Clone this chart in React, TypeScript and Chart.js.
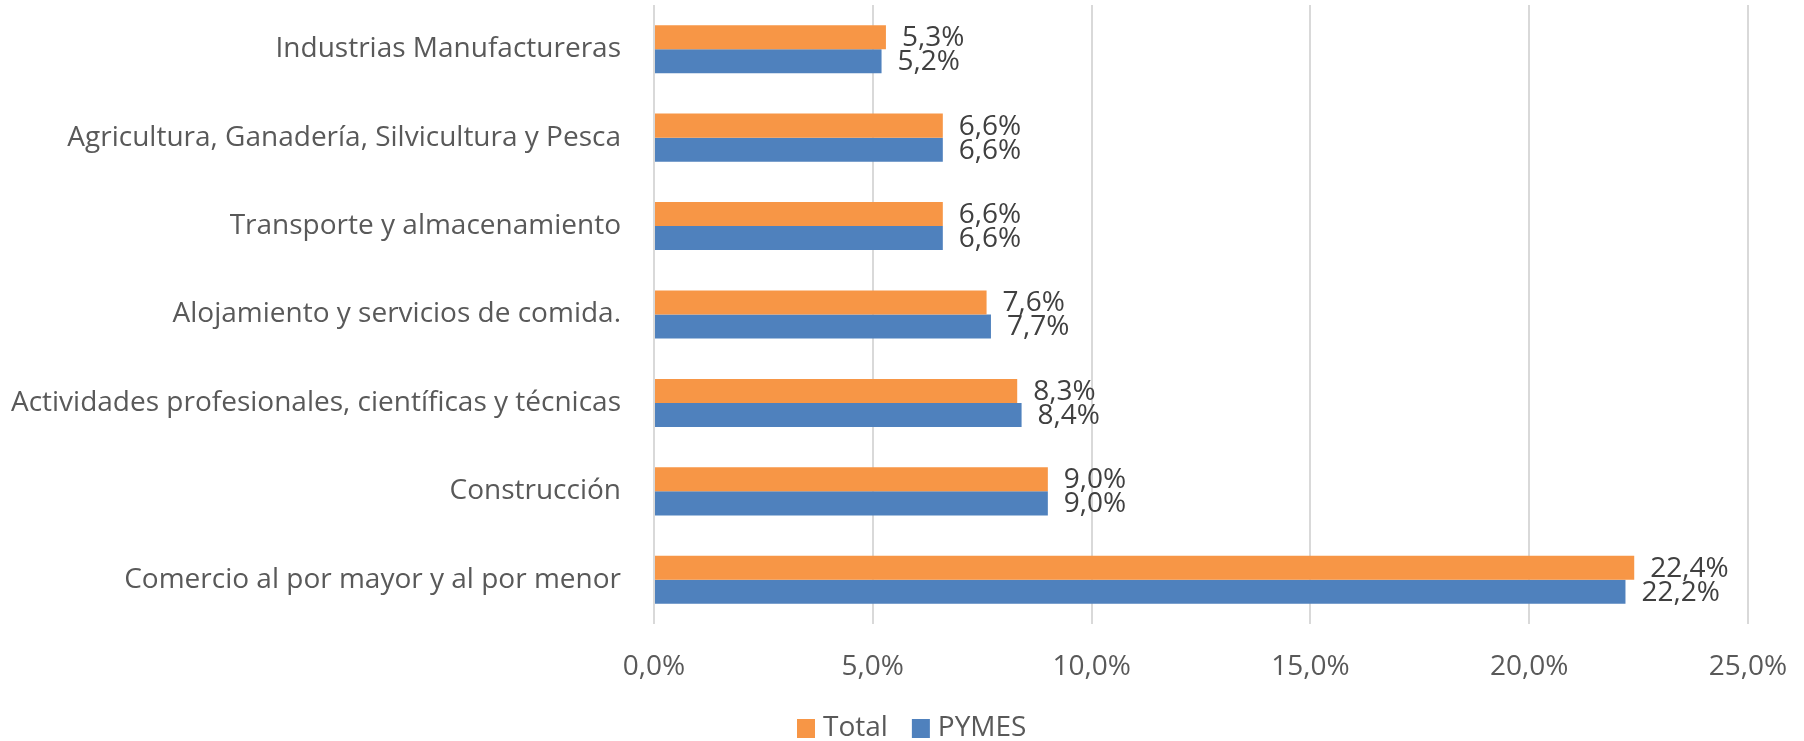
import React, { useEffect, useRef } from "react";
import { Chart, registerables } from "chart.js";

Chart.register(...registerables);

const categories = [
  "Industrias Manufactureras",
  "Agricultura, Ganadería, Silvicultura y Pesca",
  "Transporte y almacenamiento",
  "Alojamiento y servicios de comida.",
  "Actividades profesionales, científicas y técnicas",
  "Construcción",
  "Comercio al por mayor y al por menor",
];
const totalValues = [5.3, 6.6, 6.6, 7.6, 8.3, 9.0, 22.4];
const pymesValues = [5.2, 6.6, 6.6, 7.7, 8.4, 9.0, 22.2];
const seriesNames = ["Total", "PYMES"];
const seriesColors = ["#F79646", "#4F81BD"];
const xTicks = [0, 5, 10, 15, 20, 25];

const fmt = (v: number) => v.toFixed(1).replace(".", ",") + "%";

const FONT = "'Open Sans', sans-serif";
const FS = 28;

const dataLabelPlugin = {
  id: "barValueLabels",
  afterDatasetsDraw(chart: any) {
    const ctx = chart.ctx;
    ctx.save();
    ctx.font = `${FS}px ${FONT}`;
    ctx.fillStyle = "#404040";
    ctx.textAlign = "left";
    ctx.textBaseline = "middle";
    chart.data.datasets.forEach((ds: any, di: number) => {
      const meta = chart.getDatasetMeta(di);
      meta.data.forEach((el: any, i: number) => {
        ctx.fillText(fmt(ds.data[i]), el.x + 16, el.y + 1);
      });
    });
    ctx.restore();
  },
};

const legendPlugin = {
  id: "customLegend",
  afterDraw(chart: any) {
    const ctx = chart.ctx;
    ctx.save();
    ctx.font = `${FS}px ${FONT}`;
    ctx.textAlign = "left";
    ctx.textBaseline = "middle";
    const cy = 728;
    const box = 18;
    let x = 797;
    chart.data.datasets.forEach((ds: any) => {
      ctx.fillStyle = ds.backgroundColor;
      ctx.fillRect(x, cy - box / 2, box, box + 1);
      x += box + 8;
      ctx.fillStyle = "#595959";
      ctx.fillText(ds.label, x, cy);
      x += ctx.measureText(ds.label).width + 24;
    });
    ctx.restore();
  },
};

export default function App() {
  const ref = useRef<HTMLCanvasElement>(null);
  useEffect(() => {
    if (!ref.current) return;
    Chart.defaults.font.family = FONT;
    const chart = new Chart(ref.current, {
      type: "bar",
      data: {
        labels: categories,
        datasets: seriesNames.map((name, k) => ({
          label: name,
          data: k === 0 ? totalValues : pymesValues,
          backgroundColor: seriesColors[k],
          categoryPercentage: 0.544,
          barPercentage: 1,
        })),
      },
      options: {
        indexAxis: "y",
        responsive: false,
        animation: false,
        devicePixelRatio: 1,
        layout: { padding: { top: 5, right: 56, left: 0, bottom: 0 } },
        plugins: {
          tooltip: { enabled: false },
          legend: { display: false },
        },
        scales: {
          x: {
            min: 0,
            max: 25,
            afterBuildTicks: (scale: any) => {
              scale.ticks = xTicks.map((v) => ({ value: v }));
            },
            afterFit: (scale: any) => {
              scale.height = 117;
              scale.paddingLeft = 0;
              scale.paddingRight = 0;
            },
            grid: { color: "#D9D9D9", lineWidth: 2, drawTicks: false },
            border: { display: false },
            ticks: {
              font: { size: FS, family: FONT },
              color: "#595959",
              padding: 26,
              maxRotation: 0,
              callback: (v: any) => fmt(Number(v)),
            },
          },
          y: {
            afterFit: (scale: any) => {
              scale.width = 654;
              scale.paddingTop = 0;
              scale.paddingBottom = 0;
            },
            grid: { display: false, drawTicks: false },
            border: { display: false },
            ticks: {
              font: { size: FS, family: FONT },
              color: "#595959",
              padding: 33,
            },
          },
        },
      },
      plugins: [dataLabelPlugin, legendPlugin],
    } as any);
    return () => chart.destroy();
  }, []);
  return (
    <div style={{ position: "fixed", left: 0, top: 0, width: 1804, height: 741, background: "#fff" }}>
      <canvas ref={ref} width={1804} height={741} style={{ width: 1804, height: 741 }} />
    </div>
  );
}
